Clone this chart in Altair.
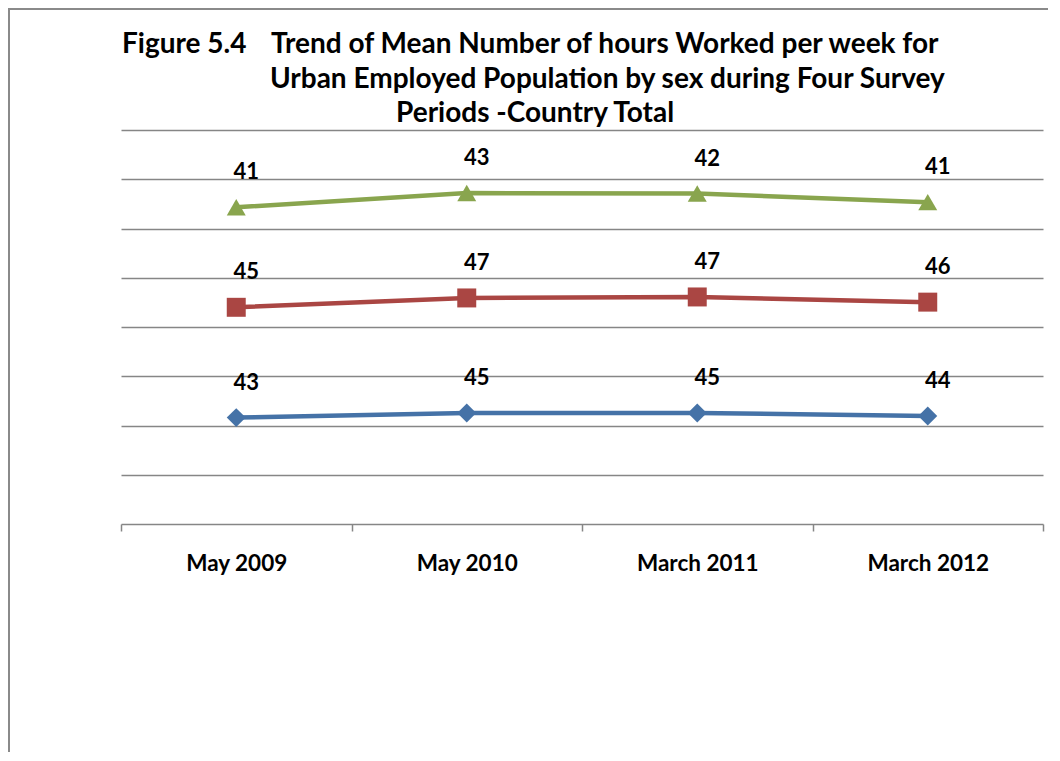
import altair as alt
import pandas as pd

periods = ["May 2009", "May 2010", "March 2011", "March 2012"]
series_names = ["Total", "Male", "Female"]
total_hours = [43.2, 45.1, 45.1, 43.9]
male_hours = [44.8, 46.7, 47.1, 46.2]
female_hours = [40.6, 42.6, 42.0, 40.6]
series_colors = ["#4572A7", "#AA4643", "#89A54E"]
series_shapes = ["diamond", "square", "triangle-up"]
title_line1a = "Figure 5.4"
title_line1b = "Trend of Mean Number of hours Worked per week for"
title_line2 = "Urban Employed Population by sex during Four Survey"
title_line3 = "Periods -Country Total"

rows = []
for order, (name, vals) in enumerate(zip(series_names, [total_hours, male_hours, female_hours])):
    for p, v in zip(periods, vals):
        rows.append({"period": p, "series": name, "value": v, "order": order})
df = pd.DataFrame(rows)

FONT = "Lato"
W, H = 922, 394

x_enc = alt.X(
    "period:N",
    sort=periods,
    bandPosition=0.5,
    scale=alt.Scale(type="band", paddingInner=0, paddingOuter=0),
    axis=alt.Axis(
        title=None,
        tickBand="extent",
        labelAngle=0,
        labelFont=FONT,
        labelFontWeight="bold",
        labelFontSize=22.5,
        labelColor="black",
        labelPadding=21,
        domainColor="#868686",
        domainWidth=1.5,
        tickColor="#868686",
        tickWidth=1.5,
        tickSize=7,
        grid=False,
    ),
)
y_enc = alt.Y(
    "y1:Q",
    scale=alt.Scale(domain=[0, 160], nice=False),
    axis=alt.Axis(
        title=None,
        labels=False,
        ticks=False,
        domain=False,
        grid=True,
        values=[20, 40, 60, 80, 100, 120, 140, 160],
        gridColor="#868686",
        gridWidth=1.5,
    ),
)
color_enc = alt.Color(
    "series:N",
    scale=alt.Scale(domain=series_names, range=series_colors),
    legend=None,
)

base = alt.Chart(df).transform_stack(
    stack="value",
    groupby=["period"],
    as_=["y0", "y1"],
    sort=[alt.SortField("order", order="ascending")],
)

lines = base.mark_line(strokeWidth=4.5).encode(
    x=x_enc, y=y_enc, color=color_enc, detail="series:N"
)
points = base.mark_point(filled=True, opacity=1, size=360).encode(
    x=x_enc,
    y=y_enc,
    color=color_enc,
    shape=alt.Shape(
        "series:N",
        scale=alt.Scale(domain=series_names, range=series_shapes),
        legend=None,
    ),
)
labels = base.mark_text(
    dy=-35, dx=10, font=FONT, fontSize=22, fontWeight="bold", color="black"
).encode(
    x=x_enc,
    y=y_enc,
    text=alt.Text("value:Q", format=".0f"),
)

one = pd.DataFrame({"a": [0]})
frame = alt.Chart(one).mark_rect(
    filled=False, fill=None, stroke="#8a8a8a", strokeWidth=2
).encode(
    x=alt.value(-112), y=alt.value(-121), x2=alt.value(1100), y2=alt.value(900)
)

def title_text(txt, x, y):
    return alt.Chart(one).mark_text(
        align="left", baseline="middle", font=FONT, fontSize=28,
        fontWeight="bold", color="black"
    ).encode(x=alt.value(x), y=alt.value(y), text=alt.value(txt))

t1a = title_text(title_line1a, 1, -85)
t1b = title_text(title_line1b, 150, -85)
t2 = title_text(title_line2, 149, -50)
t3 = title_text(title_line3, 275, -16)

chart = alt.layer(frame, lines, points, labels, t1a, t1b, t2, t3).properties(
    width=W,
    height=H,
    autosize=alt.AutoSizeParams(type="none"),
    padding={"left": 113, "top": 122, "right": 5, "bottom": 228},
).configure_view(stroke=None)

chart.save("out.html", embed_options={"renderer": "svg", "actions": False})
